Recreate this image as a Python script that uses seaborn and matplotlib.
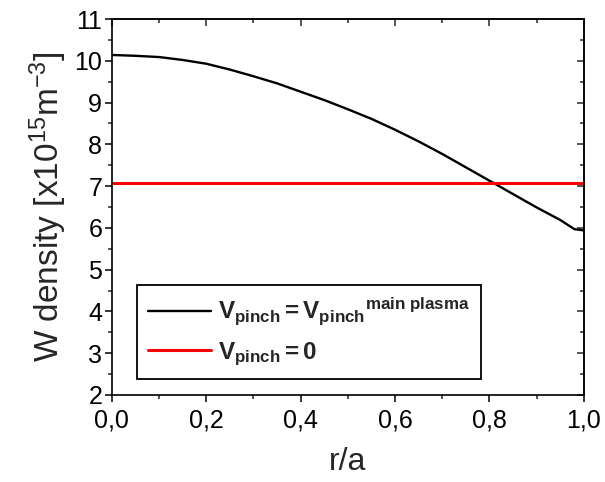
import matplotlib
matplotlib.use("Agg")
import matplotlib.pyplot as plt
from matplotlib.ticker import MultipleLocator, FixedLocator, FixedFormatter
import seaborn as sns
import pandas as pd

# ---- data ----
r_main = [0.0, 0.05, 0.1, 0.15, 0.2, 0.25, 0.3, 0.35, 0.4, 0.45, 0.5, 0.55, 0.6,
          0.65, 0.7, 0.75, 0.8, 0.85, 0.9, 0.95, 0.98, 1.0]
w_main = [10.14, 10.12, 10.09, 10.02, 9.93, 9.79, 9.63, 9.46, 9.26, 9.06, 8.84,
          8.61, 8.35, 8.07, 7.77, 7.45, 7.13, 6.81, 6.49, 6.19, 5.97, 5.94]
r_zero = [0.0, 1.0]
w_zero = [7.08, 7.08]
label_main = r"$\mathbf{V_{pinch}}$$\mathbf{=V_{pinch}{}^{main\ plasma}}$"
label_zero = r"$\mathbf{V_{pinch}}$$\mathbf{=0}$"
x_ticks = [0.0, 0.2, 0.4, 0.6, 0.8, 1.0]
x_ticklabels = ["0,0", "0,2", "0,4", "0,6", "0,8", "1,0"]
y_ticks = [2, 3, 4, 5, 6, 7, 8, 9, 10, 11]
y_ticklabels = ["2", "3", "4", "5", "6", "7", "8", "9", "10", "11"]

sns.set_theme(style="ticks")
plt.rcParams["font.family"] = ["Liberation Sans", "DejaVu Sans"]
plt.rcParams["mathtext.fontset"] = "custom"
plt.rcParams["mathtext.rm"] = "Liberation Sans"
plt.rcParams["mathtext.it"] = "Liberation Sans"
plt.rcParams["mathtext.bf"] = "Liberation Sans:bold"

df_main = pd.DataFrame({"r": r_main, "w": w_main})
df_zero = pd.DataFrame({"r": r_zero, "w": w_zero})

fig = plt.figure(figsize=(6.05, 4.82), dpi=100)
ax = fig.add_axes([0.185, 0.1805, 0.78, 0.78])

sns.lineplot(data=df_main, x="r", y="w", ax=ax, color="black", lw=1.7,
             label=label_main, estimator=None, sort=False)
sns.lineplot(data=df_zero, x="r", y="w", ax=ax, color="#ff0000", lw=2.2,
             label=label_zero, estimator=None, sort=False)

ax.set_xlim(0, 1.0)
ax.set_ylim(2, 11)
ax.xaxis.set_major_locator(FixedLocator(x_ticks))
ax.xaxis.set_major_formatter(FixedFormatter(x_ticklabels))
ax.yaxis.set_major_locator(FixedLocator(y_ticks))
ax.yaxis.set_major_formatter(FixedFormatter(y_ticklabels))
ax.xaxis.set_minor_locator(MultipleLocator(0.1))
ax.yaxis.set_minor_locator(MultipleLocator(0.5))
ax.tick_params(axis="both", which="major", direction="out", length=5, width=1.1,
               labelsize=18, colors="black")
ax.tick_params(axis="x", which="major", pad=5)
ax.tick_params(axis="y", which="major", pad=2)
ax.tick_params(axis="both", which="minor", direction="out", length=3, width=1.1)
for s in ax.spines.values():
    s.set_visible(True)
    s.set_linewidth(1.2)
    s.set_color("black")

# mirrored top/right ticks pointing inward
top = ax.secondary_xaxis("top")
top.xaxis.set_major_locator(FixedLocator(x_ticks))
top.xaxis.set_minor_locator(MultipleLocator(0.1))
top.tick_params(axis="x", which="major", direction="in", length=5, width=1.1, labeltop=False)
top.tick_params(axis="x", which="minor", direction="in", length=3, width=1.1)
top.spines["top"].set_linewidth(1.2)
right = ax.secondary_yaxis("right")
right.yaxis.set_major_locator(FixedLocator(y_ticks))
right.yaxis.set_minor_locator(MultipleLocator(0.5))
right.tick_params(axis="y", which="major", direction="in", length=5, width=1.1, labelright=False)
right.tick_params(axis="y", which="minor", direction="in", length=3, width=1.1)
right.spines["right"].set_linewidth(1.2)

ax.set_xlabel("r/a", fontsize=23, labelpad=10)
ax.set_ylabel(r"W density [x10$^{15}$m$^{-3}$]", fontsize=24, labelpad=4)

leg = ax.legend(loc="lower left", bbox_to_anchor=(0.053, 0.043), borderaxespad=0,
                fontsize=17.5, frameon=True, fancybox=False, edgecolor="black",
                handlelength=2.6, handletextpad=0.3, borderpad=0.45, labelspacing=0.5)
leg.get_frame().set_linewidth(1.3)
leg.get_frame().set_alpha(1)

fig.savefig("out.png", dpi=100)
